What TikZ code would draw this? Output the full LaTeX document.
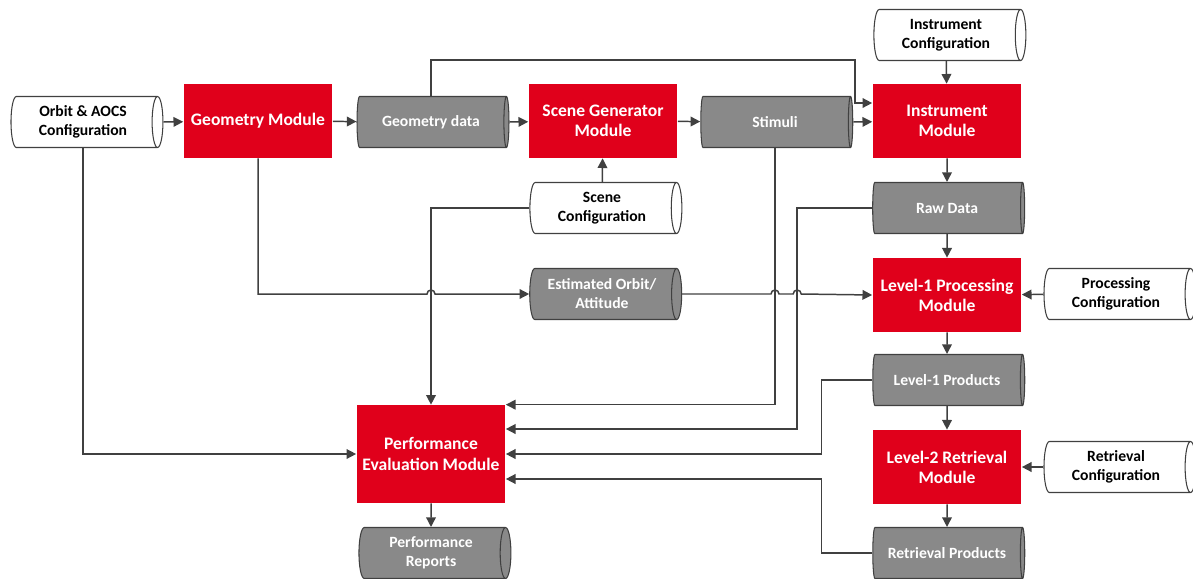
\documentclass[tikz,border=0pt]{standalone}
\usepackage{fontspec}
\setmainfont{Carlito}
\usetikzlibrary{shapes.geometric,arrows.meta}
\definecolor{boxred}{RGB}{224,0,27}
\definecolor{datagray}{RGB}{137,137,137}
\definecolor{linegray}{RGB}{64,64,64}

\begin{document}
\begin{tikzpicture}[x=0.02cm,y=0.02cm,
  module/.style={fill=boxred,text=white,font=\fontsize{10}{11.5}\selectfont\bfseries,
    align=center,minimum width=2.98cm,minimum height=1.48cm,inner sep=2pt},
  store/.style={cylinder,shape aspect=0.3,draw=linegray,line width=0.6pt,fill=datagray,
    text=white,font=\fontsize{8.9}{10.8}\selectfont\bfseries,align=center,
    minimum height=3.04cm,minimum width=1.02cm,inner sep=1pt},
  cfg/.style={store,fill=white,text=black},
  arr/.style={draw=linegray,line width=0.85pt,-{Triangle[length=5.5pt,width=5.5pt]}}]
\useasboundingbox (0,0) rectangle (1193,-578);

% modules and data
\node[cfg] (orbitcfg) at (83,-122) {Orbit \& AOCS\\Configuration};
\node[module] (geom) at (258,-121) {Geometry Module};
\node[store] (geodata) at (431,-122) {Geometry data};
\node[module] (scenegen) at (603,-121) {Scene Generator\\Module};
\node[store] (stimuli) at (775,-122) {Stimuli};
\node[module] (instr) at (947,-121) {Instrument\\Module};
\node[cfg] (instrcfg) at (946,-35) {Instrument\\Configuration};
\node[cfg] (scenecfg) at (602,-208) {Scene\\Configuration};
\node[store] (rawdata) at (947,-208) {Raw Data};
\node[store] (estorb) at (602,-294) {Estimated Orbit/\\Attitude};
\node[module] (lonep) at (947,-295) {Level-1 Processing\\Module};
\node[cfg] (proccfg) at (1116,-294) {Processing\\Configuration};
\node[store] (loneprod) at (947,-380) {Level-1 Products};
\node[module] (ltwor) at (947,-467) {Level-2 Retrieval\\Module};
\node[cfg] (retrcfg) at (1116,-467) {Retrieval\\Configuration};
\node[store] (retrprod) at (947,-553) {Retrieval Products};
\node[module,minimum height=1.96cm] (perf) at (431,-454) {Performance\\Evaluation Module};
\node[store] (perfrep) at (431,-553) {Performance\\Reports};

% bends
\coordinate (over) at (855,-60);
\coordinate (rawbend) at ([xshift=-1.5cm]rawdata.west);
\coordinate (lonebend) at ([xshift=-1.02cm]loneprod.west);
\coordinate (retbend) at (lonebend |- retrprod.west);
\coordinate (hopA) at (perf.north |- estorb.west);
\coordinate (hopB) at (stimuli.south |- estorb.east);
\coordinate (hopC) at (rawbend |- estorb.east);

% main chain
\draw[arr] (orbitcfg.east) -- (geom);
\draw[arr] (geom) -- (geodata);
\draw[arr] (geodata.east) -- (scenegen);
\draw[arr] (scenegen) -- (stimuli);
\draw[arr] (stimuli.east) -- (instr);
\draw[arr] (geodata.north) |- (over) |- ([yshift=0.36cm]instr.west);
\draw[arr] (instrcfg) -- (instr);
\draw[arr] (instr) -- (rawdata);
\draw[arr] (rawdata) -- (lonep);
\draw[arr] (scenecfg) -- (scenegen);
\draw[arr] (proccfg) -- (lonep);
\draw[arr] (lonep) -- (loneprod);
\draw[arr] (loneprod) -- (ltwor);
\draw[arr] (retrcfg) -- (ltwor);
\draw[arr] (ltwor) -- (retrprod);

% orbit / attitude estimate
\draw[arr] (geom.south) |- ([xshift=-0.08cm]hopA) arc[start angle=180,end angle=0,radius=0.08cm] -- (estorb.west);
\draw[arr] (estorb.east) -- ([xshift=-0.08cm]hopB) arc[start angle=180,end angle=0,radius=0.08cm]
  -- ([xshift=-0.08cm]hopC) arc[start angle=180,end angle=0,radius=0.08cm] -- (lonep.west);

% into performance evaluation
\draw[arr] (scenecfg.west) -| (perf.north);
\draw[arr] (orbitcfg.south) |- (perf.west);
\draw[arr] (stimuli.south) |- (perf.north east);
\draw[arr] (rawdata.west) -- (rawbend) |- ([yshift=0.5cm]perf.east);
\draw[arr] (loneprod.west) -- (lonebend) |- (perf.east);
\draw[arr] (retrprod.west) -- (retbend) |- ([yshift=-0.5cm]perf.east);
\draw[arr] (perf) -- (perfrep);
\end{tikzpicture}
\end{document}
